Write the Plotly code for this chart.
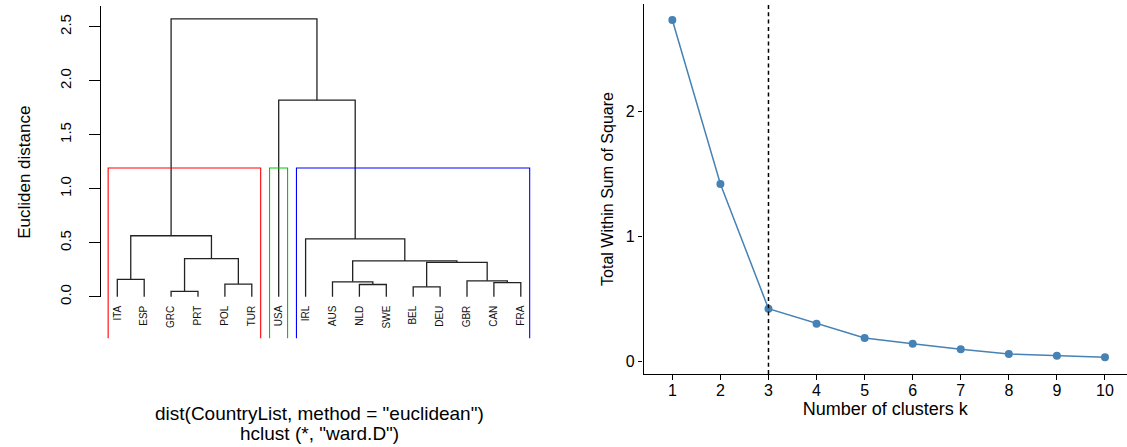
import plotly.graph_objects as go

# ---------------- data ----------------
leaves = ["ITA", "ESP", "GRC", "PRT", "POL", "TUR", "USA", "IRL",
          "AUS", "NLD", "SWE", "BEL", "DEU", "GBR", "CAN", "FRA"]
# R-style merge matrix (negative = leaf index in display order, positive = earlier merge)
merge_left = [-3, -12, -10, -5, -15, -9, -14, -1, 2, 6, 1, -8, 8, -7, 13]
merge_right = [-4, -13, -11, -6, -16, 3, 5, -2, 7, 9, 4, 10, 11, 12, 14]
merge_height = [0.050, 0.092, 0.114, 0.118, 0.132, 0.139, 0.148, 0.162,
                0.318, 0.332, 0.353, 0.536, 0.565, 1.820, 2.573]
cluster_sizes = [6, 1, 9]
cluster_colors = ["#FF0000", "#00CD00", "#0000FF"]
usr_bottom = -0.385
y_ticks_left = [0.0, 0.5, 1.0, 1.5, 2.0, 2.5]
y_ticktext_left = ["0.0", "0.5", "1.0", "1.5", "2.0", "2.5"]

k_values = [1, 2, 3, 4, 5, 6, 7, 8, 9, 10]
wss = [2.734, 1.422, 0.424, 0.304, 0.190, 0.144, 0.099, 0.062, 0.048, 0.035]
optimal_k = 3

FONT = "Liberation Sans, Arial, Helvetica, sans-serif"

# ---------------- dendrogram geometry ----------------
node_x, node_h = {}, {}
seg_x, seg_y = [], []


def child(c):
    if c < 0:
        return float(-c), 0.0
    return node_x[c], node_h[c]


for i, (a, b, h) in enumerate(zip(merge_left, merge_right, merge_height)):
    xl, hl = child(a)
    xr, hr = child(b)
    seg_x += [xl, xl, xr, xr, None]
    seg_y += [hl, h, h, hr, None]
    node_x[i + 1] = (xl + xr) / 2
    node_h[i + 1] = h

fig = go.Figure()
fig.add_trace(go.Scatter(x=seg_x, y=seg_y, mode="lines",
                         line=dict(color="#222222", width=1.3),
                         xaxis="x", yaxis="y", showlegend=False, hoverinfo="skip"))

# rect.hclust boxes
k = len(cluster_sizes)
sorted_h = sorted(merge_height, reverse=True)
box_top = (sorted_h[k - 2] + sorted_h[k - 1]) / 2
cum = [0]
for s in cluster_sizes:
    cum.append(cum[-1] + s)
for j in range(k):
    l = cum[j] + 0.66
    r = cum[j + 1] + 0.33
    fig.add_trace(go.Scatter(x=[l, l, r, r], y=[usr_bottom, box_top, box_top, usr_bottom],
                             mode="lines", line=dict(color=cluster_colors[j], width=1.1),
                             xaxis="x", yaxis="y", showlegend=False, hoverinfo="skip"))

# helper trace so the tick axis (y3) is drawn
fig.add_trace(go.Scatter(x=[None], y=[None], xaxis="x", yaxis="y3",
                         showlegend=False, hoverinfo="skip"))

# ---------------- elbow plot ----------------
fig.add_trace(go.Scatter(x=k_values, y=wss, mode="lines+markers",
                         line=dict(color="#4682B4", width=1.5),
                         marker=dict(color="#4682B4", size=8),
                         xaxis="x2", yaxis="y2", showlegend=False))

fig.add_shape(type="line", xref="x2", yref="y2 domain", x0=optimal_k, x1=optimal_k,
              y0=0, y1=1, line=dict(color="black", width=1.5, dash="4px,3.3px"))

W, H = 1127, 447

fig.update_layout(
    width=W, height=H, autosize=False,
    margin=dict(l=0, r=0, t=0, b=0, autoexpand=False),
    paper_bgcolor="white", plot_bgcolor="rgba(0,0,0,0)",
    font=dict(family=FONT, color="black"),
    xaxis=dict(domain=[101.16 / W, 536.94 / W], range=[0.4, 16.6], automargin=False,
               anchor="free", position=(H - 296.7) / H,
               showgrid=False, zeroline=False, showline=False, ticks="",
               tickmode="array", tickvals=list(range(1, len(leaves) + 1)), ticktext=leaves,
               tickangle=-90, tickfont=dict(size=10, color="#111"), ticklabelstandoff=6),
    yaxis=dict(domain=[(H - 338.4) / H, (H - 6) / H], range=[usr_bottom, 2.6917],
               automargin=False,
               anchor="x", showgrid=False, zeroline=False, showline=False,
               ticks="", showticklabels=False,
               title=dict(text="Eucliden distance", font=dict(size=17), standoff=65)),
    yaxis3=dict(domain=[(H - 296.7) / H, (H - 6) / H], range=[0, 2.6917], automargin=False,
                anchor="x", showgrid=False, zeroline=False,
                showline=True, linecolor="black", linewidth=1.2,
                ticks="outside", ticklen=11, tickwidth=1.2, tickcolor="black",
                tickmode="array", tickvals=y_ticks_left, ticktext=y_ticktext_left,
                tickangle=-90, tickfont=dict(size=15), ticklabelstandoff=12),
    xaxis2=dict(domain=[643.5 / W, 1.0], range=[0.4, 10.4583], anchor="y2", automargin=False,
                showgrid=False, zeroline=False,
                showline=True, linecolor="black", linewidth=1.4,
                ticks="outside", ticklen=4.5, tickwidth=1.2, tickcolor="black",
                tickmode="array", tickvals=k_values, tickfont=dict(size=16),
                ticklabelstandoff=-3,
                title=dict(text="Number of clusters k", font=dict(size=18), standoff=4)),
    yaxis2=dict(domain=[(H - 374) / H, (H - 4) / H], range=[-0.0984, 2.8616], anchor="x2",
                automargin=False,
                showgrid=False, zeroline=False,
                showline=True, linecolor="black", linewidth=1.4,
                ticks="outside", ticklen=4.5, tickwidth=1.2, tickcolor="black",
                tickmode="array", tickvals=[0, 1, 2], tickfont=dict(size=16),
                title=dict(text="Total Within Sum of Square", font=dict(size=16), standoff=8)),
)

fig.add_annotation(text='dist(CountryList, method = "euclidean")', xref="x", x=8.5,
                   yref="paper", y=(H - 413) / H, showarrow=False,
                   font=dict(size=19), xanchor="center", yanchor="middle")
fig.add_annotation(text='hclust (*, "ward.D")', xref="x", x=8.5,
                   yref="paper", y=(H - 433) / H, showarrow=False,
                   font=dict(size=19), xanchor="center", yanchor="middle")

fig.write_html("out.html", config={"displayModeBar": False},
               post_script="document.body.style.margin='0';")
